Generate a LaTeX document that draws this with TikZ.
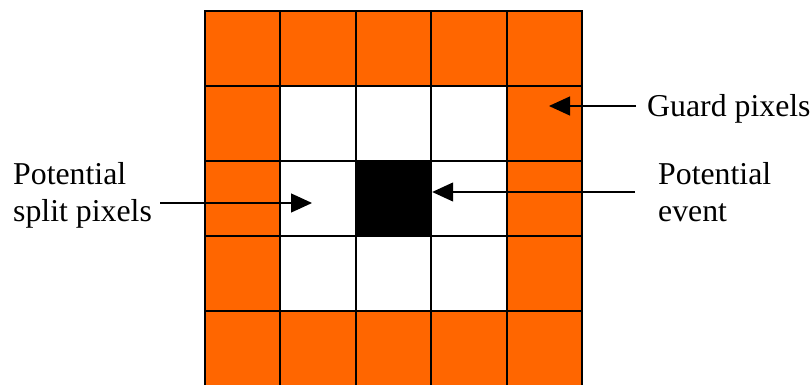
\documentclass[tikz,border=0pt]{standalone}
\usepackage{fontspec}
\setmainfont{Liberation Serif}
\usetikzlibrary{arrows.meta}
\definecolor{guard}{HTML}{FF6600}
\begin{document}
\begin{tikzpicture}[x=1pt,y=-1pt,
  cellbox/.style={draw=black,line width=2pt,minimum width=75.4pt,minimum height=75pt,inner sep=0pt,anchor=north west},
  guardcell/.style={cellbox,fill=guard},
  freecell/.style={cellbox,fill=white},
  eventcell/.style={cellbox,fill=black},
  lbl/.style={font=\fontsize{31.8}{36}\selectfont,inner sep=0pt,anchor=base west},
  pointer/.style={line width=1.3pt,-{Triangle[length=21pt,width=19pt]}}]
\useasboundingbox (0,0) rectangle (812,385);
\begin{scope}
\clip (0,0) rectangle (812,385);
\foreach \i in {0,...,4}{
  \foreach \j in {0,...,4}{
    \pgfmathtruncatemacro{\g}{(\i==0)||(\i==4)||(\j==0)||(\j==4)}
    \ifnum\g=1
      \node[guardcell] (c\i\j) at ({204+75.4*\i},{10+75*\j}) {};
    \else
      \ifnum\i=2 \ifnum\j=2
        \node[eventcell] (c\i\j) at ({204+75.4*\i},{10+75*\j}) {};
      \else
        \node[freecell] (c\i\j) at ({204+75.4*\i},{10+75*\j}) {};
      \fi
      \else
        \node[freecell] (c\i\j) at ({204+75.4*\i},{10+75*\j}) {};
      \fi
    \fi
  }
}
\end{scope}
\node[lbl] (guardlbl) at (647,117) {Guard pixels};
\node[lbl] (splitA) at (13,185) {Potential};
\node[lbl] (splitB) at (13,222) {split pixels};
\node[lbl] (eventA) at (658,185) {Potential};
\node[lbl] (eventB) at (658,222) {event};
\coordinate (guardtail) at (636,106);
\coordinate (guardtip) at (549,106);
\coordinate (splittail) at (160,203);
\coordinate (splittip) at (312,203);
\coordinate (eventtail) at (635,192);
\draw[pointer] (guardtail) -- (guardtip);
\draw[pointer] (splittail) -- (splittip);
\draw[pointer] (eventtail) -- (c22.east |- eventtail);
\end{tikzpicture}
\end{document}
